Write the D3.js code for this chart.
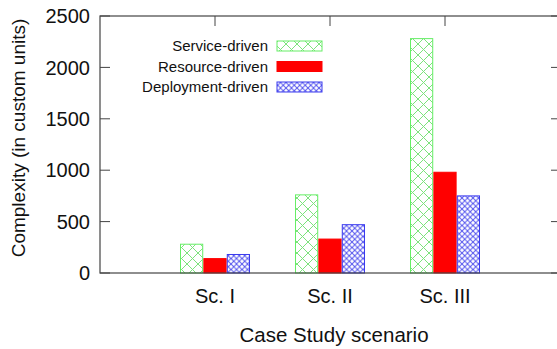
<!DOCTYPE html>
<html>
<head>
<meta charset="utf-8">
<script src="https://cdn.jsdelivr.net/npm/d3@7"></script>
<style>
  body { margin: 0; background: #fff; }
  svg { display: block; font-family: "Liberation Sans", Arial, sans-serif; }
</style>
</head>
<body>
<svg width="557" height="349"></svg>
<script>
// chart data
const scenarios = ['Sc. I', 'Sc. II', 'Sc. III'];
const seriesNames = ['Service-driven', 'Resource-driven', 'Deployment-driven'];
const serviceDriven = [280, 760, 2280];
const resourceDriven = [140, 330, 980];
const deploymentDriven = [180, 470, 750];
const yTicks = [0, 500, 1000, 1500, 2000, 2500];

const seriesValues = [serviceDriven, resourceDriven, deploymentDriven];

var svg = d3.select('svg');
var defs = svg.append('defs');

// crosshatch patterns like the gnuplot fill styles
function hatch(id, size, color) {
  var p = defs.append('pattern')
    .attr('id', id)
    .attr('patternUnits', 'userSpaceOnUse')
    .attr('width', size)
    .attr('height', size);
  p.append('rect').attr('width', size).attr('height', size).attr('fill', '#fff');
  p.append('path')
    .attr('d', 'M0,0L' + size + ',' + size + 'M' + size + ',0L0,' + size)
    .attr('stroke', color)
    .attr('stroke-width', 1);
}
hatch('hatchGreen', 11, '#7de27d');
hatch('hatchBlue', 5.5, '#5555ee');

const fills = ['url(#hatchGreen)', '#ff0000', 'url(#hatchBlue)'];
const strokes = ['#66ee66', '#ff0000', '#3b3bee'];

var plotLeft = 100, plotTop = 16, plotBottom = 273, plotRight = 560;

var x = d3.scaleLinear().domain([0, 4]).range([plotLeft, plotRight]);
var y = d3.scaleLinear().domain([0, 2500]).range([plotBottom, plotTop]);
var offset = d3.scaleBand().domain(seriesNames).range([-34.5, 34.5]).paddingInner(0.05);

// bars
seriesValues.forEach(function (vals, si) {
  svg.append('g')
    .selectAll('rect')
    .data(vals)
    .enter()
    .append('rect')
    .attr('x', function (d, i) { return x(i + 1) + offset(seriesNames[si]); })
    .attr('y', function (d) { return y(d); })
    .attr('width', offset.bandwidth())
    .attr('height', function (d) { return y(0) - y(d); })
    .attr('fill', fills[si])
    .attr('stroke', strokes[si])
    .attr('stroke-width', 1);
});

// frame
var axisColor = '#444';
svg.append('rect')
  .attr('x', plotLeft).attr('y', plotTop)
  .attr('width', plotRight - plotLeft).attr('height', plotBottom - plotTop)
  .attr('fill', 'none')
  .attr('stroke', axisColor)
  .attr('stroke-width', 1.2);

// y ticks (left and mirrored right)
var yt = svg.append('g');
yTicks.forEach(function (t) {
  yt.append('line')
    .attr('x1', plotLeft).attr('x2', plotLeft + 10)
    .attr('y1', y(t)).attr('y2', y(t))
    .attr('stroke', axisColor);
  yt.append('line')
    .attr('x1', plotRight - 9).attr('x2', plotRight)
    .attr('y1', y(t)).attr('y2', y(t))
    .attr('stroke', axisColor);
  yt.append('text')
    .attr('x', plotLeft - 10)
    .attr('y', y(t))
    .attr('dy', '0.36em')
    .attr('text-anchor', 'end')
    .attr('font-size', 20)
    .attr('fill', '#111')
    .text(t);
});

// x ticks (top mirror) and labels
var xt = svg.append('g');
scenarios.forEach(function (s, i) {
  xt.append('line')
    .attr('x1', x(i + 1)).attr('x2', x(i + 1))
    .attr('y1', plotTop).attr('y2', plotTop + 10)
    .attr('stroke', axisColor);
  xt.append('text')
    .attr('x', x(i + 1))
    .attr('y', 296)
    .attr('dy', '0.36em')
    .attr('text-anchor', 'middle')
    .attr('font-size', 20)
    .attr('fill', '#111')
    .text(s);
});

// axis titles
svg.append('text')
  .attr('x', 334)
  .attr('y', 335)
  .attr('dy', '0.36em')
  .attr('text-anchor', 'middle')
  .attr('font-size', 20.5)
  .attr('fill', '#111')
  .text('Case Study scenario');

svg.append('text')
  .attr('transform', 'translate(18,138) rotate(-90)')
  .attr('dy', '0.36em')
  .attr('text-anchor', 'middle')
  .attr('font-size', 19)
  .attr('fill', '#111')
  .text('Complexity (in custom units)');

// legend
var legend = svg.append('g').attr('id', 'legend');
seriesNames.forEach(function (name, i) {
  var ly = 46 + i * 20.5;
  legend.append('text')
    .attr('x', 268)
    .attr('y', ly)
    .attr('dy', '0.35em')
    .attr('text-anchor', 'end')
    .attr('font-size', 15)
    .attr('fill', '#111')
    .text(name);
  legend.append('rect')
    .attr('x', 277)
    .attr('y', ly - 5)
    .attr('width', 45)
    .attr('height', 10)
    .attr('fill', fills[i])
    .attr('stroke', strokes[i]);
});
</script>
</body>
</html>
